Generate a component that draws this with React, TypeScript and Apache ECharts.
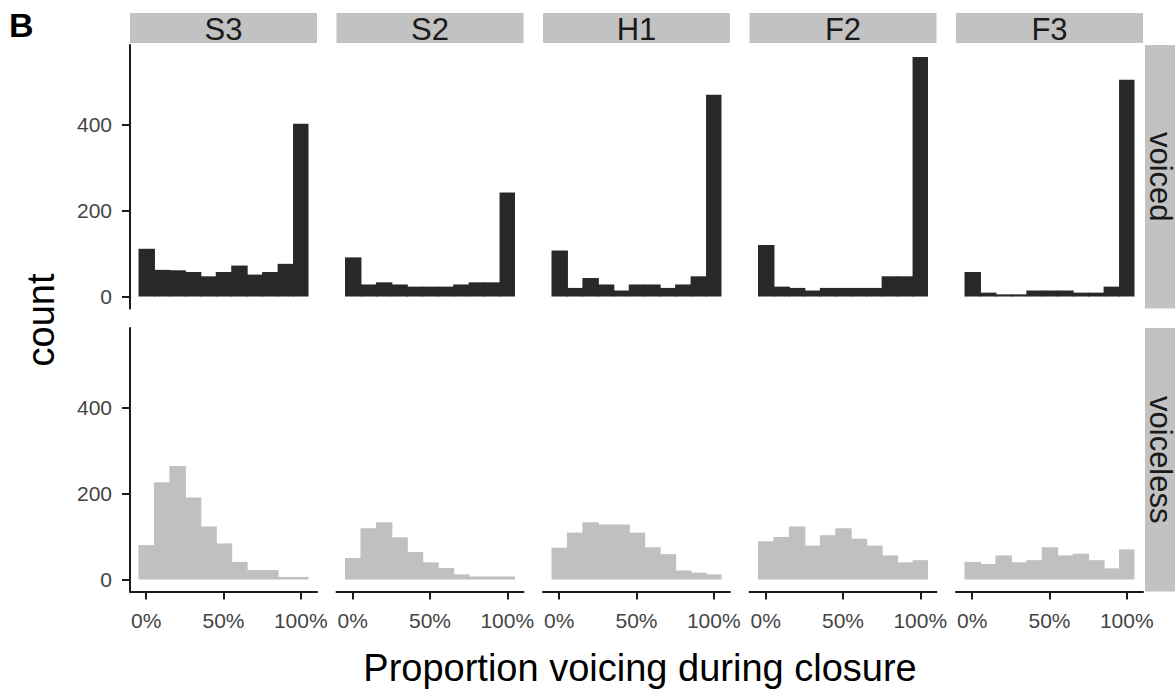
import React, { useEffect, useRef } from "react";
import * as echarts from "echarts";

// ---- data ----
const speakers = ["S3", "S2", "H1", "F2", "F3"];
const voicingRows = ["voiced", "voiceless"];
const binCenters = [0, 0.1, 0.2, 0.3, 0.4, 0.5, 0.6, 0.7, 0.8, 0.9, 1.0];
const binWidth = 0.1;

const voicedS3 = [111, 62, 61, 57, 47, 57, 72, 51, 57, 76, 402];
const voicedS2 = [91, 28, 33, 28, 23, 23, 23, 28, 33, 33, 242];
const voicedH1 = [107, 20, 43, 28, 14, 28, 28, 20, 28, 47, 469];
const voicedF2 = [120, 23, 20, 14, 20, 20, 20, 20, 47, 47, 557];
const voicedF3 = [57, 9, 5, 5, 14, 14, 14, 9, 9, 23, 504];

const voicelessS3 = [80, 226, 264, 191, 123, 84, 41, 22, 22, 6, 6];
const voicelessS2 = [50, 119, 133, 98, 64, 40, 27, 12, 7, 7, 7];
const voicelessH1 = [74, 109, 133, 128, 128, 109, 75, 59, 21, 16, 12];
const voicelessF2 = [89, 99, 123, 79, 103, 119, 95, 79, 56, 40, 45];
const voicelessF3 = [41, 36, 56, 40, 45, 75, 56, 60, 45, 26, 70];

const yTicks = [0, 200, 400];
const xTicks = [0, 0.5, 1];

const countsByRow = [
  [voicedS3, voicedS2, voicedH1, voicedF2, voicedF3],
  [voicelessS3, voicelessS2, voicelessH1, voicelessF2, voicelessF3],
];

const FONT = "'Liberation Sans', Arial, Helvetica, sans-serif";
const barColors = ["#282828", "#c0c0c0"];

export default function App() {
  const ref = useRef<HTMLDivElement>(null);

  useEffect(() => {
    if (!ref.current) return;
    const chart = echarts.init(ref.current, null, { renderer: "svg" });

    const allCounts = countsByRow.flat(2);
    const maxCount = Math.max(...allCounts);
    const yMin = -0.05 * maxCount;
    const yMax = maxCount * 1.05;
    const xMin = -binWidth / 2 - 0.055;
    const xMax = 1 + binWidth / 2 + 0.055;

    const panelLeft0 = 130;
    const panelStep = 206.5;
    const panelW = 187;
    const panelTops = [45, 328];
    const panelH = 263.5;

    const grids: any[] = [];
    const xAxes: any[] = [];
    const yAxes: any[] = [];
    const series: any[] = [];
    const graphics: any[] = [];

    voicingRows.forEach((rowName, r) => {
      speakers.forEach((sp, c) => {
        const idx = r * speakers.length + c;
        const left = panelLeft0 + c * panelStep;
        const top = panelTops[r];
        grids.push({ left, top, width: panelW, height: panelH, containLabel: false });

        const showX = r === voicingRows.length - 1;
        const showY = c === 0;

        xAxes.push({
          type: "value",
          gridIndex: idx,
          min: xMin,
          max: xMax,
          show: showX,
          splitLine: { show: false },
          axisLine: { show: true, onZero: false, lineStyle: { color: "#1a1a1a", width: 2 } },
          axisTick: {
            show: true,
            length: 8,
            customValues: xTicks,
            lineStyle: { color: "#1a1a1a", width: 2 },
          },
          axisLabel: {
            show: true,
            customValues: xTicks,
            formatter: (v: number) => Math.round(v * 100) + "%",
            fontSize: 21,
            fontFamily: FONT,
            color: "#444444",
            margin: 18,
          },
        });

        yAxes.push({
          type: "value",
          gridIndex: idx,
          min: yMin,
          max: yMax,
          show: showY,
          splitLine: { show: false },
          axisLine: { show: true, onZero: false, lineStyle: { color: "#1a1a1a", width: 2 } },
          axisTick: {
            show: true,
            length: 8,
            customValues: yTicks,
            lineStyle: { color: "#1a1a1a", width: 2 },
          },
          axisLabel: {
            show: true,
            customValues: yTicks,
            fontSize: 21,
            fontFamily: FONT,
            color: "#444444",
            margin: 18,
          },
        });

        const counts = countsByRow[r][c];
        const color = barColors[r];
        series.push({
          type: "custom",
          xAxisIndex: idx,
          yAxisIndex: idx,
          data: binCenters.map((b, i) => [b, counts[i]]),
          encode: { x: 0, y: 1 },
          renderItem: (params: any, api: any) => {
            const x = api.value(0);
            const y = api.value(1);
            const p0 = api.coord([x - binWidth / 2, y]);
            const p1 = api.coord([x + binWidth / 2, 0]);
            const isLast = params.dataIndex === binCenters.length - 1;
            return {
              type: "rect",
              shape: {
                x: p0[0],
                y: p0[1],
                width: p1[0] - p0[0] + (isLast ? 0 : 1),
                height: p1[1] - p0[1],
              },
              style: { fill: color },
            };
          },
        });

        // top strips
        if (r === 0) {
          graphics.push({
            type: "rect",
            shape: { x: left, y: 13, width: panelW, height: 30 },
            style: { fill: "#c2c2c2" },
            silent: true,
          });
          graphics.push({
            type: "text",
            x: left + panelW / 2,
            y: 29,
            style: {
              text: sp,
              fontSize: 31,
              fontFamily: FONT,
              fill: "#1a1a1a",
              align: "center",
              verticalAlign: "middle",
            },
          });
        }
        // right strips
        if (c === speakers.length - 1) {
          graphics.push({
            type: "rect",
            shape: { x: 1145, y: top, width: 30, height: panelH },
            style: { fill: "#c2c2c2" },
            silent: true,
          });
          graphics.push({
            type: "text",
            x: 1160,
            y: top + panelH / 2,
            rotation: -Math.PI / 2,
            style: {
              text: rowName,
              fontSize: 31,
              fontFamily: FONT,
              fill: "#1a1a1a",
              align: "center",
              verticalAlign: "middle",
            },
          });
        }
      });
    });

    graphics.push({
      type: "text",
      x: 9,
      y: 8,
      style: { text: "B", fontSize: 34, fontWeight: "bold", fontFamily: FONT, fill: "#000", align: "left", verticalAlign: "top" },
    });
    graphics.push({
      type: "text",
      x: 41,
      y: 320,
      rotation: Math.PI / 2,
      style: { text: "count", fontSize: 38, fontFamily: FONT, fill: "#000", align: "center", verticalAlign: "middle" },
    });
    graphics.push({
      type: "text",
      x: 640,
      y: 668,
      style: {
        text: "Proportion voicing during closure",
        fontSize: 38,
        fontFamily: FONT,
        fill: "#000",
        align: "center",
        verticalAlign: "middle",
      },
    });

    chart.setOption({
      animation: false,
      backgroundColor: "#ffffff",
      grid: grids,
      xAxis: xAxes,
      yAxis: yAxes,
      series,
      graphic: graphics,
    });

    return () => chart.dispose();
  }, []);

  return (
    <div
      ref={ref}
      style={{ position: "fixed", left: 0, top: 0, width: 1176, height: 692 }}
    />
  );
}
